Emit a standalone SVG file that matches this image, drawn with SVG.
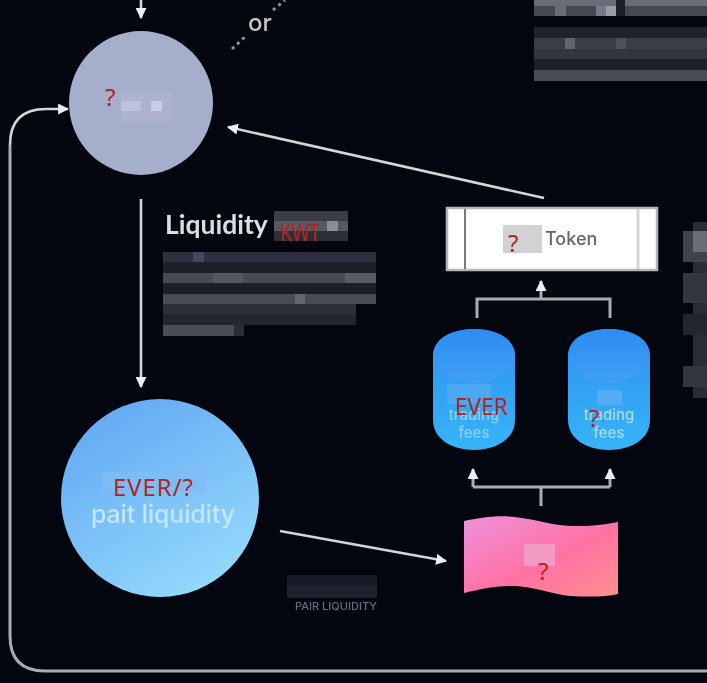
<svg xmlns="http://www.w3.org/2000/svg" width="707" height="683" viewBox="0 0 707 683">
<style>
.ln{fill:none;stroke:#d4d5da;stroke-width:2.6}
.gr{fill:none;stroke:#a9abb2;stroke-width:3}
.mk{fill:#eceef2}
.red{font-family:"Noto Sans",sans-serif;fill:#b5251f;font-size:24px}
.ui{font-family:"Lato","Open Sans",sans-serif}
.in{font-family:"Inter","Open Sans",sans-serif;font-weight:500}
.soft{filter:url(#s)}
</style>
<defs>
<filter id="s" x="-10%" y="-10%" width="120%" height="120%"><feGaussianBlur stdDeviation="0.6"/></filter>
<linearGradient id="big" x1="0.2" y1="0" x2="0.8" y2="1"><stop offset="0" stop-color="#62a8f4"/><stop offset="1" stop-color="#96dcfb"/></linearGradient>
<linearGradient id="cyl" x1="0" y1="0" x2="0" y2="1"><stop offset="0" stop-color="#2f8ff2"/><stop offset="1" stop-color="#37b4f6"/></linearGradient>
<linearGradient id="cap" x1="0" y1="0" x2="0" y2="1"><stop offset="0" stop-color="#2c8cf3"/><stop offset="1" stop-color="#3ea0f4"/></linearGradient>
<linearGradient id="flag" x1="0" y1="0" x2="1" y2="1"><stop offset="0" stop-color="#ee90dc"/><stop offset="0.55" stop-color="#ff72a4"/><stop offset="1" stop-color="#ff8f90"/></linearGradient>
<marker id="a" viewBox="0 0 10 10" refX="9" refY="5" markerWidth="11" markerHeight="11" markerUnits="userSpaceOnUse" orient="auto"><path class="mk" d="M0 0L10 5L0 10Z"/></marker>
</defs>
<rect width="707" height="683" fill="#03050f"/>

<g id="blur-top-right">
<rect x="534" y="0" width="173" height="6" fill="#6a6c76"/><rect x="534" y="6" width="173" height="10" fill="#464852"/>
<rect x="534" y="27" width="173" height="11" fill="#20222c"/><rect x="534" y="38" width="173" height="11" fill="#3a3c46"/>
<rect x="534" y="49" width="173" height="10" fill="#33353e"/><rect x="534" y="59" width="173" height="11" fill="#1e2028"/>
<rect x="534" y="70" width="173" height="11" fill="#4a4c56"/>
<rect x="555" y="6" width="11" height="10" fill="#6a6c76"/><rect x="596" y="6" width="10" height="10" fill="#77798a"/>
<rect x="606" y="6" width="10" height="10" fill="#9a9ca6"/><rect x="616" y="0" width="9" height="16" fill="#1c1e28"/>
<rect x="565" y="38" width="10" height="11" fill="#62646e"/><rect x="616" y="38" width="10" height="11" fill="#4d4f5a"/>
</g>
<g id="blur-right">
<rect x="693" y="222" width="14" height="176" fill="#2a2c36"/>
<rect x="683" y="231" width="24" height="31" fill="#3f414b"/><rect x="683" y="273" width="24" height="30" fill="#33353f"/>
<rect x="683" y="314" width="24" height="21" fill="#24262f"/><rect x="683" y="366" width="24" height="21" fill="#33353f"/>
<rect x="693" y="231" width="14" height="21" fill="#6a6c76"/>
</g>

<g id="connectors" class="soft">
<path class="ln" marker-end="url(#a)" d="M141 0V18"/>
<path d="M232 49L247 35M273 10L285 0" fill="none" stroke="#8f9198" stroke-width="3" stroke-dasharray="3 4"/>
<path d="M707 671H45Q10 671 10 636V145" fill="none" stroke="#a9abb2" stroke-width="3"/>
<path class="ln" marker-end="url(#a)" d="M10 145Q10 109 46 109H68"/>
<path class="ln" marker-end="url(#a)" d="M544 198L228 127"/>
<path class="ln" marker-end="url(#a)" d="M141 199V387"/>
<path class="ln" marker-end="url(#a)" d="M280 531L446 561"/>
<path class="gr" d="M477 318V299H610V318"/>
<path class="gr" marker-end="url(#a)" d="M541 299V281"/>
<path class="gr" d="M541 506V487M473 487H610"/>
<path class="gr" marker-end="url(#a)" d="M473 487V469"/>
<path class="gr" marker-end="url(#a)" d="M610 487V469"/>
</g>

<g id="node-top">
<circle cx="141" cy="103" r="72" fill="#a5aecb"/>
<rect x="121" y="91" width="50" height="30" fill="#abb3cf"/>
<rect x="121" y="101" width="20" height="10" fill="#bcc3db"/><rect x="151" y="101" width="11" height="10" fill="#c8cfe5"/>
<text class="red" x="105" y="106">?</text>
</g>

<g id="label-liquidity">
<text class="ui soft" x="165" y="234" font-size="26.5" font-weight="700" fill="#dcdde2">Liquidity</text>
<rect x="274" y="211" width="74" height="10" fill="#3a3c48"/><rect x="274" y="221" width="74" height="10" fill="#555764"/><rect x="274" y="231" width="74" height="10" fill="#2c2e38"/>
<rect x="327" y="221" width="11" height="10" fill="#8a8c96"/>
<text class="red" x="280" y="241" textLength="40" lengthAdjust="spacingAndGlyphs">KWT</text>
<rect x="163" y="252" width="213" height="10" fill="#2e3040"/><rect x="163" y="262" width="213" height="11" fill="#1e2029"/>
<rect x="163" y="273" width="213" height="10" fill="#474953"/><rect x="163" y="283" width="213" height="11" fill="#1c1e28"/>
<rect x="163" y="294" width="213" height="10" fill="#484a55"/><rect x="163" y="304" width="193" height="10" fill="#2d2f38"/>
<rect x="163" y="314" width="193" height="11" fill="#24262f"/><rect x="163" y="325" width="71" height="11" fill="#4a4c56"/>
<rect x="234" y="325" width="10" height="11" fill="#2a2c34"/>
<rect x="193" y="252" width="11" height="10" fill="#45475a"/><rect x="295" y="294" width="10" height="10" fill="#64666f"/>
<rect x="213" y="273" width="30" height="10" fill="#55575f"/><rect x="345" y="273" width="31" height="10" fill="#585a64"/>
</g>

<g id="node-token">
<rect x="447" y="208" width="210" height="62" fill="#fff" stroke="#b4b5ba" stroke-width="2.5"/>
<path d="M465 209V269" stroke="#77797f" stroke-width="2"/><path d="M638 209V269" stroke="#d4d5d8" stroke-width="3"/>
<rect x="503" y="225" width="39" height="28" fill="#d2d2d2"/>
<text class="in soft" x="545" y="245" font-size="18" fill="#66676b">Token</text>
<text class="red" x="508" y="252">?</text>
</g>

<g id="node-cyl-left">
<path d="M433 356C433 338 452 329 474 329C496 329 515 338 515 356V420C515 439 496 450 474 450C452 450 433 439 433 420Z" fill="url(#cyl)"/>
<ellipse cx="474" cy="356" rx="41" ry="27" fill="url(#cap)"/>
<rect x="447" y="384" width="44" height="20" fill="#4da8f2"/>
<text class="in soft" x="474" y="420" font-size="15" text-anchor="middle" fill="#8ed0f8">trading</text>
<text class="in soft" x="474" y="438" font-size="15" text-anchor="middle" fill="#8ed0f8">fees</text>
<text class="red" x="455" y="415" textLength="53" lengthAdjust="spacingAndGlyphs">EVER</text>
</g>
<g id="node-cyl-right">
<path d="M568 356C568 338 587 329 609 329C631 329 650 338 650 356V420C650 439 631 450 609 450C587 450 568 439 568 420Z" fill="url(#cyl)"/>
<ellipse cx="609" cy="356" rx="41" ry="27" fill="url(#cap)"/>
<rect x="597" y="390" width="25" height="15" fill="#52adf4"/>
<text class="in soft" x="609" y="420" font-size="15" text-anchor="middle" fill="#a8dcf9">trading</text>
<text class="in soft" x="609" y="438" font-size="15" text-anchor="middle" fill="#a8dcf9">fees</text>
<text class="red" x="589" y="427">?</text>
</g>

<g id="node-pair">
<circle cx="160" cy="498" r="99" fill="url(#big)"/>
<rect x="102" y="472" width="104" height="20" fill="#7fbcf5" opacity=".8"/>
<rect x="175" y="462" width="30" height="10" fill="#7fbcf5" opacity=".8"/>
<text class="in soft" x="163" y="523" font-size="25" text-anchor="middle" textLength="144" lengthAdjust="spacingAndGlyphs" fill="#c4e6fb">pait liquidity</text>
<text class="red" x="113" y="496" textLength="80">EVER/?</text>
</g>

<g id="node-flag">
<path d="M464 521C480 518 495 515 515 517C540 520 555 527 580 526C595 526 607 524 618 522V594C605 597 590 597 570 596C550 594 535 586 510 586C490 586 478 590 464 593Z" fill="url(#flag)"/>
<rect x="524" y="544" width="31" height="22" fill="#f09ac4"/>
<text class="red" x="538" y="580">?</text>
</g>

<g id="label-pair">
<rect x="287" y="575" width="90" height="11" fill="#181a28"/><rect x="287" y="586" width="90" height="12" fill="#1f2130"/>
<text class="in soft" x="295" y="610" font-size="10" textLength="82" lengthAdjust="spacingAndGlyphs" fill="#6a6c7c">PAIR LIQUIDITY</text>
</g>

<g id="label-or"><text class="in soft" x="248" y="31" font-size="24" fill="#c4c5cb">or</text></g>
</svg>
